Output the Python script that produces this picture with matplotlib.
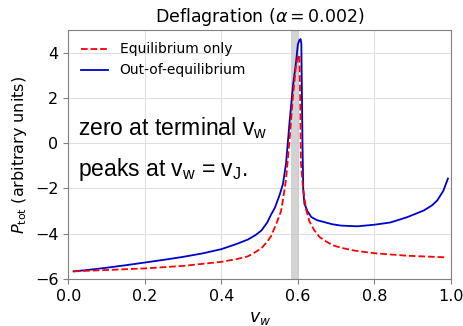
import numpy as np
import matplotlib.pyplot as plt

# Equilibrium only (red dashed)
vw_eq = [0.014, 0.1, 0.2, 0.3, 0.4, 0.44, 0.469, 0.486, 0.504, 0.52, 0.53, 0.545, 0.556,
         0.561, 0.569, 0.578, 0.587, 0.595, 0.601, 0.604, 0.606, 0.608, 0.613, 0.621,
         0.63, 0.643, 0.657, 0.67, 0.69, 0.713, 0.75, 0.8, 0.885, 0.985]
p_eq = [-5.66, -5.6, -5.53, -5.42, -5.24, -5.12, -5.0, -4.84, -4.65, -4.35, -4.1, -3.5, -3.0,
        -2.5, -1.6, 0.1, 2.07, 3.4, 3.85, 3.9, 2.0, -0.87, -1.9, -2.9,
        -3.45, -3.85, -4.15, -4.3, -4.5, -4.62, -4.75, -4.86, -4.97, -5.04]

# Out-of-equilibrium (blue)
vw_neq = [0.014, 0.05, 0.1, 0.15, 0.2, 0.25, 0.3, 0.35, 0.4, 0.44, 0.47, 0.49, 0.505, 0.52,
          0.53, 0.54, 0.552, 0.561, 0.569, 0.578, 0.587, 0.595, 0.6, 0.604, 0.607, 0.609,
          0.612, 0.614, 0.617, 0.625, 0.635, 0.65, 0.67, 0.69, 0.713, 0.756, 0.8, 0.842,
          0.885, 0.91, 0.929, 0.95, 0.964, 0.98, 0.992]
p_neq = [-5.66, -5.6, -5.5, -5.39, -5.27, -5.15, -5.02, -4.87, -4.68, -4.45, -4.25, -4.05, -3.85, -3.5,
         -3.15, -2.85, -2.3, -1.8, -0.9, 0.89, 2.52, 3.55, 4.37, 4.55, 4.6, 4.4,
         0.0, -2.08, -2.67, -3.0, -3.26, -3.4, -3.49, -3.58, -3.64, -3.67, -3.6, -3.5,
         -3.27, -3.1, -2.97, -2.75, -2.53, -2.1, -1.56]

band = (0.583, 0.603)

fig = plt.figure(figsize=(4.64, 3.26), dpi=100)
ax = fig.add_axes([0.147, 0.144, 0.825, 0.764])

ax.axvspan(*band, color='#c8c8c8', alpha=0.8, lw=0, zorder=1)
ax.plot(vw_eq, p_eq, 'r--', lw=1.3, label='Equilibrium only', zorder=3)
ax.plot(vw_neq, p_neq, color='#0000cc', lw=1.3, label='Out-of-equilibrium', zorder=2)

ax.set_xlim(0, 1)
ax.set_ylim(-6, 5)
ax.set_yticks([-6, -4, -2, 0, 2, 4])
ax.grid(True, color='#e0e0e0', lw=0.8)
ax.set_axisbelow(True)
for s in ax.spines.values():
    s.set_color('#808080')
ax.tick_params(labelsize=11.5, color='#808080')

ax.set_title(r'Deflagration ($\alpha = 0.002$)', fontsize=12.5)
ax.set_xlabel(r'$v_w$', fontsize=12.5)
ax.set_ylabel(r'$P_{\rm tot}$ (arbitrary units)', fontsize=11.5)
ax.legend(loc='upper left', fontsize=10, frameon=False)

ax.text(0.025, 0.606, r'zero at terminal v$_\mathregular{w}$', transform=ax.transAxes,
        fontsize=16.5, family='Liberation Sans', va='center')
ax.text(0.025, 0.44, r'peaks at v$_\mathregular{w}$ = v$_\mathregular{J}$.', transform=ax.transAxes,
        fontsize=16.5, family='Liberation Sans', va='center')

fig.savefig('out.png', dpi=100)
